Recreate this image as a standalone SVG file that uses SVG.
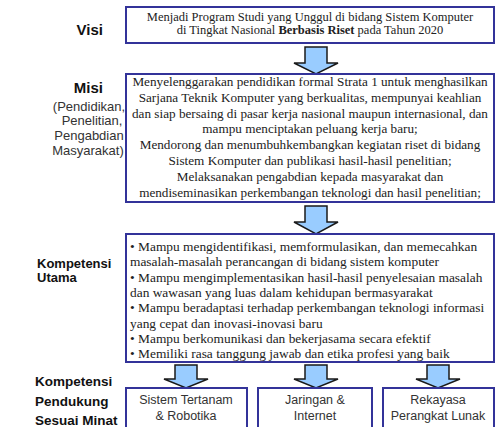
<svg xmlns="http://www.w3.org/2000/svg" width="495" height="427" viewBox="0 0 495 427">
<style>
.box{fill:#fff;stroke:#333399;stroke-width:2}
.arr{fill:#99ccff;stroke:#1a1a1a;stroke-width:1.5;stroke-linejoin:miter}
.lab{font-family:"Liberation Sans",Arial,sans-serif;font-weight:bold;fill:#111}
.sub{font-family:"Liberation Sans",Arial,sans-serif;font-size:13px;fill:#333}
.ser{font-family:"Liberation Serif","Times New Roman",serif;fill:#222}
.san{font-family:"Liberation Sans",Arial,sans-serif;font-size:12.5px;fill:#333}
</style>
<rect width="495" height="427" fill="#fff"/>
<g id="labels">
<text class="lab" x="103" y="35" font-size="15" text-anchor="end">Visi</text>
<text class="lab" x="103" y="93" font-size="15" text-anchor="end">Misi</text>
<text class="sub" x="89" y="111" text-anchor="middle">(Pendidikan,</text>
<text class="sub" x="92" y="125" text-anchor="middle">Penelitian,</text>
<text class="sub" x="89" y="140" text-anchor="middle">Pengabdian</text>
<text class="sub" x="88" y="155" text-anchor="middle">Masyarakat)</text>
<text class="lab" x="37" y="268" font-size="13">Kompetensi</text>
<text class="lab" x="37" y="282" font-size="13">Utama</text>
<text class="lab" x="35" y="386" font-size="13.5">Kompetensi</text>
<text class="lab" x="35" y="406" font-size="13.5">Pendukung</text>
<text class="lab" x="35" y="425" font-size="13.5">Sesuai Minat</text>
</g>
<g id="connectors">
<polygon class="arr" points="305,47 327,47 327,63 338,63 316,74 294,63 305,63"/>
<polygon class="arr" points="305,206 327,206 327,222 338,222 316,234 294,222 305,222"/>
<polygon class="arr" points="175,365 197,365 197,379 208,379 186,388 164,379 175,379"/>
<polygon class="arr" points="305,365 327,365 327,379 338,379 316,388 294,379 305,379"/>
<polygon class="arr" points="427,365 449,365 449,379 460,379 438,388 416,379 427,379"/>
</g>
<g id="visi">
<rect class="box" x="126" y="7" width="368" height="36"/>
<g class="ser" font-size="12.5" text-anchor="middle">
<text x="310" y="21">Menjadi Program Studi yang Unggul di bidang Sistem Komputer</text>
<text x="310" y="34">di Tingkat Nasional <tspan font-weight="bold">Berbasis Riset</tspan> pada Tahun 2020</text>
</g>
</g>
<g id="misi">
<rect class="box" x="126" y="74" width="368" height="128"/>
<g class="ser" font-size="13.2" text-anchor="middle">
<text x="310" y="86">Menyelenggarakan pendidikan formal Strata 1 untuk menghasilkan</text>
<text x="310" y="101.8">Sarjana Teknik Komputer yang berkualitas, mempunyai keahlian</text>
<text x="310" y="117.6">dan siap bersaing di pasar kerja nasional maupun internasional, dan</text>
<text x="310" y="133.4">mampu menciptakan peluang kerja baru;</text>
<text x="310" y="149.2">Mendorong dan menumbuhkembangkan kegiatan riset di bidang</text>
<text x="310" y="165">Sistem Komputer dan publikasi hasil-hasil penelitian;</text>
<text x="310" y="180.8">Melaksanakan pengabdian kepada masyarakat dan</text>
<text x="310" y="196.6">mendiseminasikan perkembangan teknologi dan hasil penelitian;</text>
</g>
</g>
<g id="kompetensi-utama">
<rect class="box" x="126" y="234" width="368" height="128"/>
<g class="ser" font-size="13.4">
<text x="130" y="251">• Mampu mengidentifikasi, memformulasikan, dan memecahkan</text>
<text x="130" y="266">masalah-masalah perancangan di bidang sistem komputer</text>
<text x="130" y="281.5">• Mampu mengimplementasikan hasil-hasil penyelesaian masalah</text>
<text x="130" y="297">dan wawasan yang luas dalam kehidupan bermasyarakat</text>
<text x="130" y="312">• Mampu beradaptasi terhadap perkembangan teknologi informasi</text>
<text x="130" y="327.5">yang cepat dan inovasi-inovasi baru</text>
<text x="130" y="343">• Mampu berkomunikasi dan bekerjasama secara efektif</text>
<text x="130" y="358">• Memiliki rasa tanggung jawab dan etika profesi yang baik</text>
</g>
</g>
<g id="minat-1">
<rect class="box" x="126" y="388" width="121" height="42"/>
<text class="san" x="186" y="404" text-anchor="middle">Sistem Tertanam</text>
<text class="san" x="186" y="420" text-anchor="middle">&amp; Robotika</text>
</g>
<g id="minat-2">
<rect class="box" x="258" y="388" width="114" height="42"/>
<text class="san" x="315" y="404" text-anchor="middle">Jaringan &amp;</text>
<text class="san" x="315" y="420" text-anchor="middle">Internet</text>
</g>
<g id="minat-3">
<rect class="box" x="383" y="388" width="111" height="42"/>
<text class="san" x="438" y="404" text-anchor="middle">Rekayasa</text>
<text class="san" x="438" y="420" text-anchor="middle">Perangkat Lunak</text>
</g>
</svg>
